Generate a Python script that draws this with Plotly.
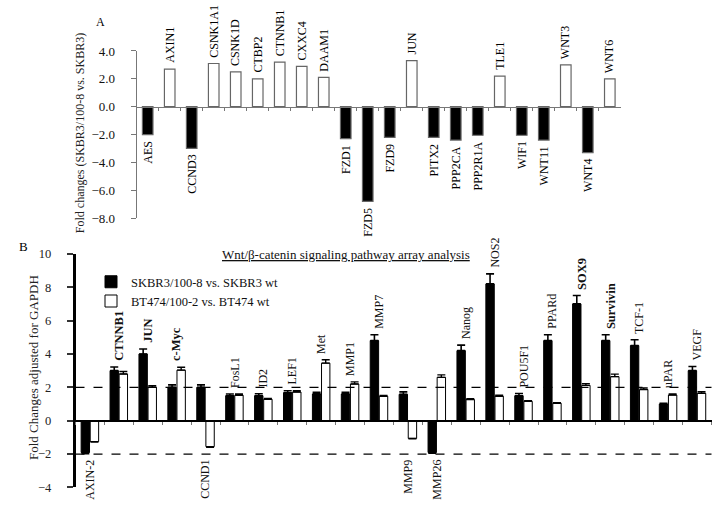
import plotly.graph_objects as go

# ---------------- Panel A data ----------------
genes_a = ["AES", "AXIN1", "CCND3", "CSNK1A1", "CSNK1D", "CTBP2", "CTNNB1", "CXXC4",
           "DAAM1", "FZD1", "FZD5", "FZD9", "JUN", "PITX2", "PPP2CA", "PPP2R1A",
           "TLE1", "WIF1", "WNT11", "WNT3", "WNT4", "WNT6"]
fold_a = [-2.0, 2.7, -3.0, 3.1, 2.5, 2.0, 3.2, 2.9,
          2.1, -2.3, -6.8, -2.2, 3.3, -2.2, -2.4, -2.05,
          2.2, -2.05, -2.4, 3.0, -3.3, 2.0]
ticks_a = [-8, -6, -4, -2, 0, 2, 4]

# ---------------- Panel B data ----------------
genes_b = ["AXIN-2", "CTNNB1", "JUN", "c-Myc", "CCND1", "FosL1", "ID2", "LEF1", "Met",
           "MMP1", "MMP7", "MMP9", "MMP26", "Nanog", "NOS2", "POU5F1", "PPARd", "SOX9",
           "Survivin", "TCF-1", "uPAR", "VEGF"]
bold_b = ["CTNNB1", "JUN", "c-Myc", "SOX9", "Survivin"]
skbr3 = [-1.9, 3.0, 4.0, 2.0, 2.0, 1.5, 1.5, 1.68, 1.6,
         1.6, 4.8, 1.58, -1.9, 4.2, 8.2, 1.5, 4.8, 7.0,
         4.8, 4.5, 1.0, 3.0]
skbr3_err = [0.08, 0.22, 0.3, 0.15, 0.15, 0.1, 0.12, 0.12, 0.1,
             0.1, 0.35, 0.15, 0.05, 0.33, 0.6, 0.13, 0.35, 0.5,
             0.35, 0.35, 0.05, 0.25]
bt474 = [-1.25, 2.8, 2.0, 3.03, -1.55, 1.53, 1.29, 1.72, 3.45,
         2.2, 1.47, -1.06, 2.6, 1.27, 1.47, 1.16, 1.05, 2.12,
         2.64, 1.87, 1.54, 1.64]
bt474_err = [0.03, 0.15, 0.1, 0.17, 0.05, 0.07, 0.04, 0.08, 0.2,
             0.13, 0.05, 0.03, 0.15, 0.05, 0.06, 0.04, 0.03, 0.1,
             0.15, 0.1, 0.07, 0.1]
ticks_b = [-4, -2, 0, 2, 4, 6, 8, 10]
name_b1 = "SKBR3/100-8 vs. SKBR3 wt"
name_b2 = "BT474/100-2 vs. BT474 wt"

SERIF = "Liberation Serif, Times New Roman, serif"
W, H = 712, 511

def px_x(p):
    return p / W

def px_y(p):
    return 1 - p / H

# domains
xa_dom = [px_x(136.7), px_x(620.8)]
ya_dom = [px_y(217.5), px_y(45.3)]
ya_range = [-8, 4]
xa_pos = ya_dom[0] + (0 - ya_range[0]) / (ya_range[1] - ya_range[0]) * (ya_dom[1] - ya_dom[0])

xb_dom = [px_x(75.5), px_x(711.5)]
yb_dom = [px_y(495), px_y(254.3)]
yb_range = [-4, 10]
xb_pos = yb_dom[0] + (0 - yb_range[0]) / (yb_range[1] - yb_range[0]) * (yb_dom[1] - yb_dom[0])

fig = go.Figure()

# Panel A bars
fig.add_trace(go.Bar(
    x=genes_a, y=fold_a, xaxis="x", yaxis="y", width=0.48,
    marker=dict(color=["black" if v < 0 else "white" for v in fold_a],
                line=dict(color="#666666", width=1.2)),
    showlegend=False, hoverinfo="x+y"))

def up(vals, errs):
    return [e if v >= 0 else 0 for v, e in zip(vals, errs)]

def down(vals, errs):
    return [e if v < 0 else 0 for v, e in zip(vals, errs)]

fig.add_trace(go.Bar(
    x=genes_b, y=skbr3, xaxis="x2", yaxis="y2", name=name_b1,
    width=0.29, offset=-0.305,
    marker=dict(color="black", line=dict(color="black", width=1)),
    error_y=dict(type="data", symmetric=False, array=up(skbr3, skbr3_err),
                 arrayminus=down(skbr3, skbr3_err), color="black", thickness=1.6, width=4)))
fig.add_trace(go.Bar(
    x=genes_b, y=bt474, xaxis="x2", yaxis="y2", name=name_b2,
    width=0.29, offset=0.01,
    marker=dict(color="white", line=dict(color="black", width=1)),
    error_y=dict(type="data", symmetric=False, array=up(bt474, bt474_err),
                 arrayminus=down(bt474, bt474_err), color="black", thickness=1.4, width=4)))

annotations = []
# Panel A labels
for g, v in zip(genes_a, fold_a):
    annotations.append(dict(
        x=g, y=v, xref="x", yref="y", text=g, showarrow=False, textangle=-90,
        xanchor="center", yanchor="bottom" if v >= 0 else "top", yshift=4 if v >= 0 else -4,
        font=dict(family=SERIF, size=12, color="black")))

# Panel B labels
for g, a, ea, b, eb in zip(genes_b, skbr3, skbr3_err, bt474, bt474_err):
    txt = "<b>%s</b>" % g if g in bold_b else g
    if min(a, b) < 0:
        annotations.append(dict(x=g, y=-2.1, xref="x2", yref="y2", text=txt, showarrow=False,
                                textangle=-90, xanchor="center", yanchor="top", yshift=-2,
                                font=dict(family=SERIF, size=12, color="#111")))
    else:
        top = max(a + ea, b + eb)
        annotations.append(dict(x=g, y=top, xref="x2", yref="y2", text=txt, showarrow=False,
                                textangle=-90, xanchor="center", yanchor="bottom", yshift=4,
                                font=dict(family=SERIF, size=12.5 if g in bold_b else 12, color="#111")))

# panel letters, titles
annotations += [
    dict(x=px_x(100), y=px_y(15), xref="paper", yref="paper", text="A", showarrow=False,
         xanchor="center", yanchor="middle",
         font=dict(family=SERIF, size=12, color="black")),
    dict(x=px_x(23), y=px_y(247), xref="paper", yref="paper", text="B", showarrow=False,
         xanchor="center", yanchor="middle",
         font=dict(family=SERIF, size=13, color="black")),
    dict(x=px_x(80), y=px_y(130), xref="paper", yref="paper",
         text="Fold changes (SKBR3/100-8 vs. SKBR3)", showarrow=False, textangle=-90,
         xanchor="center", yanchor="middle",
         font=dict(family=SERIF, size=12, color="#222")),
    dict(x=px_x(33), y=px_y(372), xref="paper", yref="paper",
         text="Fold Changes adjusted for GAPDH", showarrow=False, textangle=-90,
         xanchor="center", yanchor="middle",
         font=dict(family=SERIF, size=13, color="#222")),
    dict(x=px_x(345.5), y=px_y(255), xref="paper", yref="paper",
         text="<u>Wnt/β-catenin signaling pathway array analysis</u>", showarrow=False,
         xanchor="center", yanchor="middle",
         font=dict(family=SERIF, size=13, color="#111")),
]

shapes = [
    dict(type="line", xref="x2 domain", yref="y2", x0=0, x1=1, y0=2, y1=2,
         line=dict(color="black", width=1.3, dash="dash")),
    dict(type="line", xref="x2 domain", yref="y2", x0=0, x1=1, y0=-2, y1=-2,
         line=dict(color="black", width=1.3, dash="dash")),
]

fig.update_layout(
    width=W, height=H, margin=dict(l=0, r=0, t=0, b=0),
    paper_bgcolor="white", plot_bgcolor="white",
    font=dict(family=SERIF, size=12, color="black"),
    barmode="overlay",
    xaxis=dict(domain=xa_dom, anchor="free", position=xa_pos, type="category",
               showticklabels=False, showline=True, linecolor="#777", linewidth=1.2,
               ticks="outside", tickson="boundaries", ticklen=3, tickcolor="#777",
               showgrid=False, zeroline=False, fixedrange=True),
    yaxis=dict(domain=ya_dom, anchor="x", range=ya_range, tickvals=ticks_a, tickformat=".1f",
               showline=True, linecolor="#777", linewidth=1.2, ticks="outside", ticklen=5,
               tickcolor="#777", showgrid=False, zeroline=False, ticklabelstandoff=13,
               tickfont=dict(family=SERIF, size=13, color="#111")),
    xaxis2=dict(domain=xb_dom, anchor="free", position=xb_pos, type="category",
                showticklabels=False, showline=True, linecolor="black", linewidth=2,
                ticks="outside", tickson="boundaries", ticklen=3, tickcolor="#777",
                showgrid=False, zeroline=False),
    yaxis2=dict(domain=yb_dom, anchor="x2", range=yb_range, tickvals=ticks_b,
                showline=True, linecolor="black", linewidth=2.5, ticks="outside", ticklen=6,
                tickwidth=2, tickcolor="#333", showgrid=False, zeroline=False,
                ticklabelstandoff=13,
                tickfont=dict(family=SERIF, size=12.5, color="#222")),
    legend=dict(x=px_x(91), y=px_y(268), xanchor="left", yanchor="top",
                bgcolor="rgba(0,0,0,0)", font=dict(family=SERIF, size=12.5, color="#111"),
                tracegroupgap=0, itemwidth=30),
    annotations=annotations,
    shapes=shapes,
)

fig.write_html("out.html", config={"displayModeBar": False},
               post_script="document.body.style.margin='0px';")
